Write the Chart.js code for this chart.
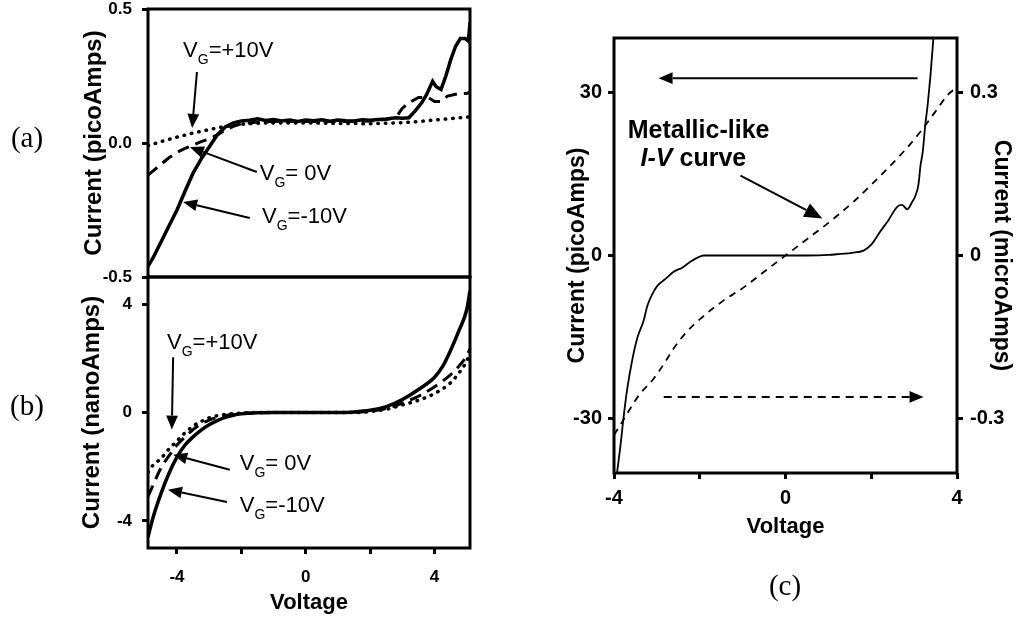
<!DOCTYPE html>
<html>
<head>
<meta charset="utf-8">
<script src="https://cdn.jsdelivr.net/npm/chart.js"></script>
<style>
  body { margin: 0; background: #fff; width: 1016px; height: 617px; position: relative; overflow: hidden; }
  canvas { position: absolute; }
  .tag { position: absolute; font-family: 'Liberation Serif', 'Times New Roman', serif; font-size: 29px; color: #000; transform: translate(-50%, -50%); }
</style>
</head>
<body>
<canvas id="chartA" width="490" height="320" style="left:0;top:-20px"></canvas>
<canvas id="chartB" width="490" height="367" style="left:0;top:250px"></canvas>
<canvas id="chartC" width="496" height="617" style="left:520px;top:0"></canvas>
<div class="tag" style="left:27px;top:137px">(a)</div>
<div class="tag" style="left:27px;top:405px">(b)</div>
<div class="tag" style="left:785px;top:585px">(c)</div>
<script>
const FONT = "'Liberation Sans', Arial, Helvetica, sans-serif";

// (a) current in picoAmps for three gate voltages
const aVoltNeg = [-4.9, -4.75, -4.5, -4.25, -4.0, -3.75, -3.5, -3.25, -3.0, -2.75, -2.5, -2.25, -2.0, -1.75, -1.5, -1.25, -1.0, -0.75, -0.5, -0.25, 0, 0.25, 0.5, 0.75, 1.0, 1.25, 1.5, 1.75, 2.0, 2.25, 2.5, 2.8, 3.0, 3.2, 3.4, 3.6, 3.75, 3.94, 4.05, 4.2, 4.35, 4.5, 4.65, 4.8, 4.95, 5.05, 5.1];
const aCurNeg  = [-0.46, -0.43, -0.37, -0.31, -0.25, -0.18, -0.112, -0.06, -0.015, 0.03, 0.06, 0.075, 0.082, 0.085, 0.09, 0.084, 0.088, 0.082, 0.086, 0.08, 0.086, 0.083, 0.087, 0.081, 0.086, 0.083, 0.082, 0.087, 0.085, 0.088, 0.09, 0.094, 0.092, 0.094, 0.12, 0.15, 0.18, 0.23, 0.21, 0.2, 0.25, 0.31, 0.36, 0.39, 0.39, 0.38, 0.45];
const aVoltZero = [-4.9, -4.75, -4.5, -4.25, -4.0, -3.75, -3.5, -3.25, -3.0, -2.75, -2.5, -2.25, -2.0, -1.5, -1.0, 0, 1.0, 2.0, 2.5, 2.8, 3.0, 3.2, 3.5, 3.8, 4.0, 4.2, 4.4, 4.7, 5.0, 5.1];
const aCurZero  = [-0.12, -0.105, -0.08, -0.055, -0.035, -0.02, -0.008, 0.005, 0.015, 0.03, 0.048, 0.062, 0.072, 0.078, 0.08, 0.08, 0.08, 0.082, 0.088, 0.095, 0.13, 0.15, 0.17, 0.17, 0.155, 0.155, 0.175, 0.183, 0.185, 0.19];
const aVoltPos = [-4.9, -4.5, -4.0, -3.5, -3.0, -2.5, -2.0, -1.5, -1.0, 0, 1.0, 2.0, 3.0, 3.5, 4.0, 4.5, 5.1];
const aCurPos  = [-0.01, 0.005, 0.022, 0.037, 0.05, 0.062, 0.07, 0.074, 0.075, 0.075, 0.073, 0.072, 0.076, 0.08, 0.086, 0.091, 0.098];

// (b) current in nanoAmps for three gate voltages
const bVoltNeg = [-4.9, -4.75, -4.5, -4.25, -4.0, -3.75, -3.5, -3.25, -3.0, -2.75, -2.5, -2.25, -2.0, -1.5, -1.0, 0, 1.0, 1.5, 2.0, 2.5, 3.0, 3.5, 4.0, 4.25, 4.5, 4.75, 5.0, 5.1];
const bCurNeg  = [-4.6, -3.9, -3.0, -2.25, -1.65, -1.2, -0.9, -0.65, -0.45, -0.3, -0.18, -0.1, -0.05, -0.01, 0, 0, 0, 0.02, 0.08, 0.22, 0.48, 0.85, 1.3, 1.7, 2.3, 3.0, 3.8, 4.5];
const bVoltZero = [-4.9, -4.75, -4.5, -4.25, -4.0, -3.75, -3.5, -3.25, -3.0, -2.75, -2.5, -2.0, -1.5, -1.0, 0, 1.0, 2.0, 2.5, 3.0, 3.5, 4.0, 4.5, 4.75, 5.0, 5.1];
const bCurZero  = [-3.1, -2.7, -2.05, -1.6, -1.2, -0.9, -0.63, -0.42, -0.28, -0.18, -0.11, -0.04, -0.01, 0, 0, 0, 0.05, 0.15, 0.35, 0.6, 0.95, 1.4, 1.7, 2.1, 2.35];
const bVoltPos = [-4.9, -4.75, -4.5, -4.25, -4.0, -3.75, -3.5, -3.25, -3.0, -2.75, -2.5, -2.0, -1.5, 0, 1.5, 2.5, 3.0, 3.5, 4.0, 4.5, 4.75, 5.0, 5.1];
const bCurPos  = [-2.2, -1.95, -1.7, -1.35, -1.05, -0.75, -0.5, -0.33, -0.2, -0.12, -0.07, -0.02, 0, 0, 0, 0.12, 0.28, 0.45, 0.7, 1.1, 1.45, 1.9, 2.2];

// (c) picoAmps (left axis) and microAmps (right axis)
const cVoltPico = [-3.93, -3.85, -3.78, -3.7, -3.57, -3.45, -3.31, -3.22, -3.1, -2.98, -2.8, -2.61, -2.4, -2.21, -2.05, -1.91, -1.5, -1.0, 0, 0.5, 1.0, 1.28, 1.55, 1.82, 2.0, 2.21, 2.4, 2.61, 2.72, 2.84, 2.95, 3.03, 3.1, 3.15, 3.2, 3.26, 3.32, 3.38, 3.45];
const cCurPico  = [-40, -35, -30, -25, -19, -15, -12, -9.2, -7, -5.5, -4.3, -3.0, -2.2, -1.1, -0.4, 0, 0, 0, 0, 0, 0.1, 0.3, 0.5, 0.9, 2.0, 4.4, 6.5, 9.0, 9.3, 8.5, 9.8, 11, 13, 16.6, 19, 24, 28, 33, 40];
const cVoltMicro = [-4.0, -3.8, -3.61, -3.4, -3.08, -2.8, -2.61, -2.3, -1.98, -1.45, -1.0, -0.5, 0, 0.5, 1.0, 1.59, 2.0, 2.38, 2.8, 3.15, 3.5, 3.78, 3.92, 4.0];
const cCurMicro  = [-0.33, -0.305, -0.28, -0.255, -0.227, -0.195, -0.171, -0.14, -0.116, -0.083, -0.06, -0.03, 0.0, 0.03, 0.06, 0.099, 0.13, 0.16, 0.195, 0.228, 0.265, 0.295, 0.304, 0.305];

const xTicksAB = [-4, -2, 0, 2, 4];
const xLabelsShown = [-4, 0, 4];
const yTicksA = [-0.5, 0, 0.5];
const yTicksB = [-4, 0, 4];
const yTicksCLeft = [-30, 0, 30];
const yTicksCRight = [-0.3, 0, 0.3];

Chart.defaults.font.family = FONT;
Chart.defaults.color = '#000';

const pts = (xs, ys) => xs.map((x, i) => ({ x: x, y: ys[i] }));
const setTicks = vals => scale => { scale.ticks = vals.map(v => ({ value: v })); };

const solid = { borderWidth: 3.5, borderDash: [] };
const dashed = { borderWidth: 3, borderDash: [12, 7] };
const dotted = { borderWidth: 3.5, borderDash: [0.5, 7], borderCapStyle: 'round' };

function series(data, style, extra) {
  return Object.assign({ data: data, borderColor: '#000', pointRadius: 0, fill: false, tension: 0 }, style, extra || {});
}

const tickFont = { size: 17, weight: 'bold' };
const tickFontC = { size: 20, weight: 'bold' };
const titleFont = { size: 22, weight: 'bold' };
const yTitleFontAB = { size: 24, weight: 'bold' };
const yTitleFontC = { size: 23, weight: 'bold' };

// frame around each plot area
const framePlugin = {
  id: 'frame',
  afterDraw(chart) {
    const { ctx, chartArea: a } = chart;
    ctx.save();
    ctx.strokeStyle = '#000';
    ctx.lineWidth = 3;
    ctx.strokeRect(a.left, a.top, a.right - a.left, a.bottom - a.top);
    ctx.restore();
  }
};

function drawArrow(ctx, x1, y1, x2, y2, o) {
  const ang = Math.atan2(y2 - y1, x2 - x1);
  const L = o.head || 14, W = L * 0.42;
  const bx = x2 - L * Math.cos(ang), by = y2 - L * Math.sin(ang);
  ctx.save();
  ctx.strokeStyle = '#000';
  ctx.fillStyle = '#000';
  ctx.lineWidth = o.width || 2;
  ctx.setLineDash(o.dash || []);
  ctx.beginPath();
  ctx.moveTo(x1, y1);
  ctx.lineTo(bx, by);
  ctx.stroke();
  ctx.setLineDash([]);
  ctx.beginPath();
  ctx.moveTo(x2, y2);
  ctx.lineTo(bx + W * Math.sin(ang), by - W * Math.cos(ang));
  ctx.lineTo(bx - W * Math.sin(ang), by + W * Math.cos(ang));
  ctx.closePath();
  ctx.fill();
  ctx.restore();
}

// text labels and arrows placed in data units
const notesPlugin = {
  id: 'notes',
  afterDraw(chart, args, opts) {
    const ctx = chart.ctx;
    const xs = chart.scales.x;
    const ys = chart.scales.y;
    (opts.arrows || []).forEach(a => {
      drawArrow(ctx, xs.getPixelForValue(a.from[0]), ys.getPixelForValue(a.from[1]),
        xs.getPixelForValue(a.to[0]), ys.getPixelForValue(a.to[1]), a);
    });
    (opts.texts || []).forEach(t => {
      let px = xs.getPixelForValue(t.x);
      const py = ys.getPixelForValue(t.y);
      const size = t.size || 22;
      const weight = t.bold ? 'bold ' : '';
      ctx.save();
      ctx.fillStyle = '#000';
      ctx.textBaseline = 'alphabetic';
      ctx.textAlign = 'left';
      t.parts.forEach(p => {
        const s = p.sub ? Math.round(size * 0.65) : size;
        ctx.font = (p.italic ? 'italic ' : '') + weight + s + 'px ' + FONT;
        ctx.fillText(p.t, px, py + (p.sub ? 7 : 0));
        px += ctx.measureText(p.t).width;
      });
      ctx.restore();
    });
  }
};

const vg = rest => [{ t: 'V' }, { t: 'G', sub: true }, { t: rest }];

const xScaleAB = (showTicks) => ({
  type: 'linear', min: -4.9, max: 5.1, display: showTicks,
  afterBuildTicks: setTicks(xTicksAB),
  afterFit: s => { s.height = showTicks ? 69 : 0; },
  border: { display: false },
  grid: { drawOnChartArea: false, drawTicks: true, tickLength: 6, tickWidth: 3, color: '#000' },
  ticks: { font: tickFont, padding: 13, maxRotation: 0, autoSkip: false,
    callback: v => xLabelsShown.includes(v) ? String(v) : '' },
  title: { display: true, text: 'Voltage', font: titleFont, padding: { top: 0, bottom: 1 } }
});

function yScaleLeft(min, max, vals, fmt, title, width, titlePad, tickPad, font, tFont) {
  return {
    type: 'linear', position: 'left', min: min, max: max,
    afterBuildTicks: setTicks(vals),
    afterFit: s => { s.width = width; },
    border: { display: false },
    grid: { drawOnChartArea: false, drawTicks: true, tickLength: 6, tickWidth: 3, color: '#000' },
    ticks: { font: font || tickFont, padding: tickPad, callback: fmt },
    title: { display: true, text: title, font: tFont || yTitleFontAB, padding: { top: titlePad, bottom: 0 } }
  };
}

const baseOptions = {
  responsive: false,
  animation: false,
  plugins: { legend: { display: false }, tooltip: { enabled: false } }
};

new Chart(document.getElementById('chartA'), {
  type: 'line',
  data: {
    datasets: [
      series(pts(aVoltPos, aCurPos), dotted),
      series(pts(aVoltZero, aCurZero), dashed),
      series(pts(aVoltNeg, aCurNeg), solid)
    ]
  },
  options: Object.assign({}, baseOptions, {
    layout: { padding: { top: 29, right: 20, bottom: 23, left: 0 } },
    scales: {
      x: xScaleAB(false),
      y: yScaleLeft(-0.5, 0.5, yTicksA, v => v.toFixed(1), 'Current (picoAmps)', 148, 80, 10)
    },
    plugins: Object.assign({}, baseOptions.plugins, {
      notes: {
        texts: [
          { x: -3.81, y: 0.321, parts: vg('=+10V') },
          { x: -1.43, y: -0.138, parts: vg('= 0V') },
          { x: -1.36, y: -0.299, parts: vg('=-10V') }
        ],
        arrows: [
          { from: [-3.38, 0.265], to: [-3.53, 0.056] },
          { from: [-1.52, -0.108], to: [-3.6, -0.015] },
          { from: [-1.74, -0.28], to: [-3.81, -0.22] }
        ]
      }
    })
  }),
  plugins: [framePlugin, notesPlugin]
});

new Chart(document.getElementById('chartB'), {
  type: 'line',
  data: {
    datasets: [
      series(pts(bVoltPos, bCurPos), dotted, { cubicInterpolationMode: 'monotone' }),
      series(pts(bVoltZero, bCurZero), dashed, { cubicInterpolationMode: 'monotone' }),
      series(pts(bVoltNeg, bCurNeg), solid, { cubicInterpolationMode: 'monotone' })
    ]
  },
  options: Object.assign({}, baseOptions, {
    layout: { padding: { top: 27, right: 20, bottom: 0, left: 0 } },
    scales: {
      x: xScaleAB(true),
      y: yScaleLeft(-5, 5, yTicksB, v => String(v), 'Current (nanoAmps)', 148, 78, 10)
    },
    plugins: Object.assign({}, baseOptions.plugins, {
      notes: {
        texts: [
          { x: -4.31, y: 2.33, parts: vg('=+10V') },
          { x: -2.05, y: -2.11, parts: vg('= 0V') },
          { x: -2.05, y: -3.67, parts: vg('=-10V') }
        ],
        arrows: [
          { from: [-4.12, 2.04], to: [-4.16, -0.63] },
          { from: [-2.36, -2.11], to: [-4.12, -1.56] },
          { from: [-2.45, -3.3], to: [-4.28, -2.85] }
        ]
      }
    })
  }),
  plugins: [framePlugin, notesPlugin]
});

new Chart(document.getElementById('chartC'), {
  type: 'line',
  data: {
    datasets: [
      series(pts(cVoltPico, cCurPico), { borderWidth: 1.8 }, { yAxisID: 'y', cubicInterpolationMode: 'monotone' }),
      series(pts(cVoltMicro, cCurMicro), { borderWidth: 1.8, borderDash: [7, 6] }, { yAxisID: 'y2', cubicInterpolationMode: 'monotone' })
    ]
  },
  options: Object.assign({}, baseOptions, {
    layout: { padding: { top: 38, right: 0, bottom: 64, left: 0 } },
    scales: {
      x: {
        type: 'linear', min: -4, max: 4,
        afterBuildTicks: setTicks(xTicksAB),
        afterFit: s => { s.height = 80; },
        border: { display: false },
        grid: { drawOnChartArea: false, drawTicks: true, tickLength: 6, tickWidth: 3, color: '#000' },
        ticks: { font: tickFontC, padding: 7, maxRotation: 0, autoSkip: false,
          callback: v => xLabelsShown.includes(v) ? String(v) : '' },
        title: { display: true, text: 'Voltage', font: titleFont, padding: { top: 0, bottom: 13 } }
      },
      y: yScaleLeft(-40, 40, yTicksCLeft, v => String(v), 'Current (picoAmps)', 94, 44, 6, tickFontC, yTitleFontC),
      y2: {
        type: 'linear', position: 'right', min: -0.4, max: 0.4,
        afterBuildTicks: setTicks(yTicksCRight),
        afterFit: s => { s.width = 59; },
        border: { display: false },
        grid: { drawOnChartArea: false, drawTicks: true, tickLength: 6, tickWidth: 3, color: '#000' },
        ticks: { font: tickFontC, padding: 7, callback: v => v === 0 ? '0' : v.toFixed(1) },
        title: { display: true, text: 'Current (microAmps)', font: yTitleFontC, padding: { top: 1, bottom: 0 } }
      }
    },
    plugins: Object.assign({}, baseOptions.plugins, {
      notes: {
        texts: [
          { x: -3.68, y: 21.7, size: 25, bold: true, parts: [{ t: 'Metallic-like' }] },
          { x: -3.38, y: 16.4, size: 25, bold: true, parts: [{ t: 'I-V', italic: true }, { t: ' curve' }] }
        ],
        arrows: [
          { from: [3.08, 32.6], to: [-2.96, 32.6], width: 2, head: 14 },
          { from: [-2.84, -26], to: [3.22, -26], width: 2, head: 14, dash: [8, 6] },
          { from: [-1.05, 14.7], to: [0.86, 6.8], width: 2, head: 18 }
        ]
      }
    })
  }),
  plugins: [framePlugin, notesPlugin]
});
</script>
</body>
</html>
